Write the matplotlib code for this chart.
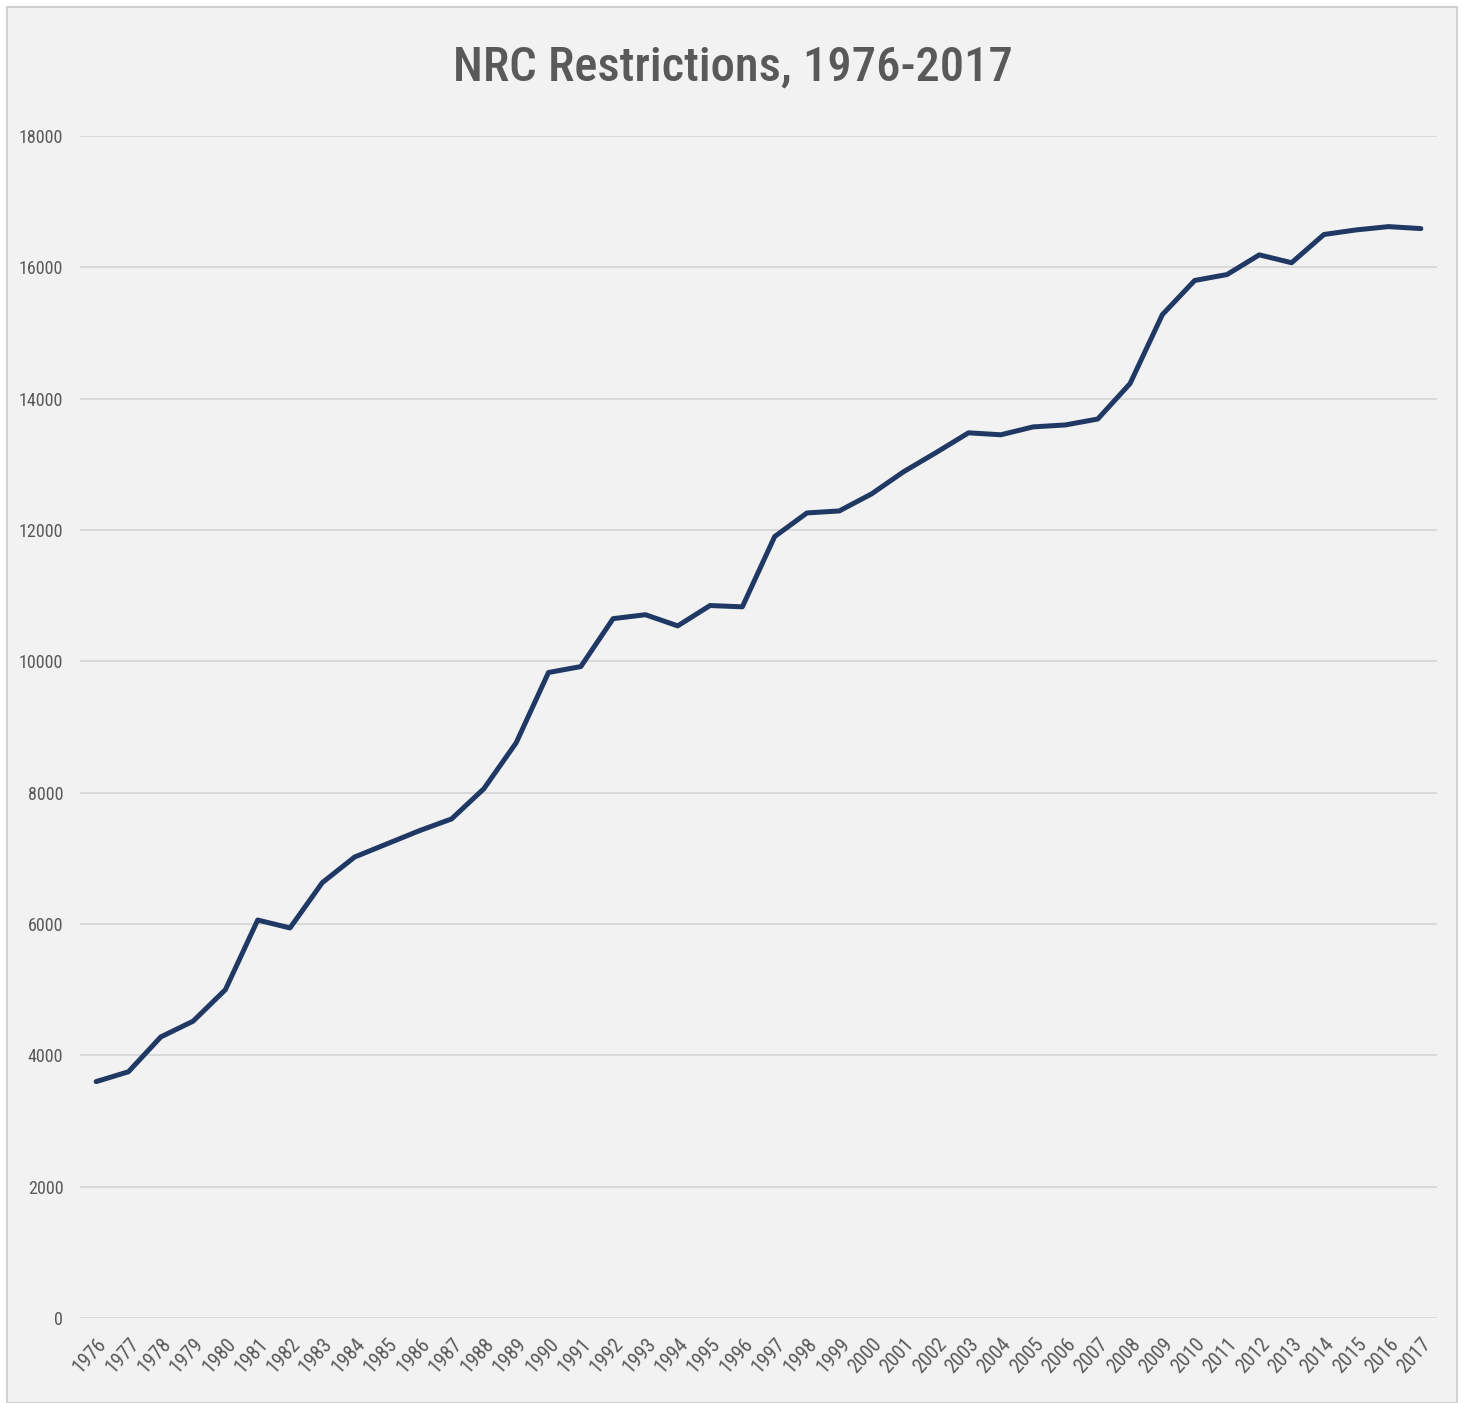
import matplotlib.pyplot as plt
from matplotlib.patches import Rectangle
from matplotlib import font_manager

# data
years = list(range(1976, 2018))
restrictions = [3600, 3750, 4280, 4520, 5000, 6060, 5940, 6630, 7020, 7220,
                7420, 7600, 8060, 8760, 9830, 9920, 10650, 10710, 10540, 10850,
                10830, 11900, 12260, 12290, 12550, 12890, 13180, 13480, 13450, 13570,
                13600, 13690, 14230, 15280, 15800, 15890, 16190, 16070, 16500, 16570,
                16620, 16590]
y_ticks = list(range(0, 18001, 2000))

# pick the narrowest installed family (the original uses Calibri)
names = {f.name for f in font_manager.fontManager.ttflist}
font = 'DejaVu Sans'
for cand in ['Roboto Condensed', 'Liberation Sans Narrow', 'Open Sans Condensed', 'Roboto', 'Lato']:
    if cand in names:
        font = cand
        break
plt.rcParams['font.family'] = [font, 'DejaVu Sans']

bg = '#f2f2f2'
fig = plt.figure(figsize=(14.65, 14.03), dpi=100, facecolor='white')
ax = fig.add_axes([80 / 1465, 1 - 1318 / 1403, (1437 - 80) / 1465, (1318 - 136) / 1403])

# light grey card with thin border
fig.patches.append(Rectangle((7 / 1465, 0), (1457 - 7) / 1465, 1 - 7 / 1403,
                             transform=fig.transFigure, facecolor=bg,
                             edgecolor='#d0d0d0', linewidth=1.5, zorder=-10))
ax.set_facecolor(bg)

x = list(range(len(years)))
ax.plot(x, restrictions, color='#1f3864', linewidth=3.6, solid_joinstyle='round',
        solid_capstyle='round', zorder=3)

ax.set_xlim(-0.5, len(years) - 0.5)
ax.set_ylim(0, 18000)
ax.set_yticks(y_ticks)
ax.set_yticklabels([str(v) for v in y_ticks])
ax.set_xticks(x)
ax.set_xticklabels([str(y) for y in years], rotation=48, ha='right', rotation_mode='anchor')

ax.grid(axis='y', color='#d9d9d9', linewidth=1.4)
ax.set_axisbelow(True)
for s in ax.spines.values():
    s.set_visible(False)
ax.tick_params(axis='both', length=0, colors='#595959')
ax.tick_params(axis='y', pad=12, labelsize=13)
ax.tick_params(axis='x', pad=12, labelsize=14.5)

fig.text(0.5, 1 - 68 / 1403, 'NRC Restrictions, 1976-2017', ha='center', va='center',
         fontsize=35, color='#595959', fontweight='medium')

fig.savefig('out.png', dpi=100, facecolor='white')
